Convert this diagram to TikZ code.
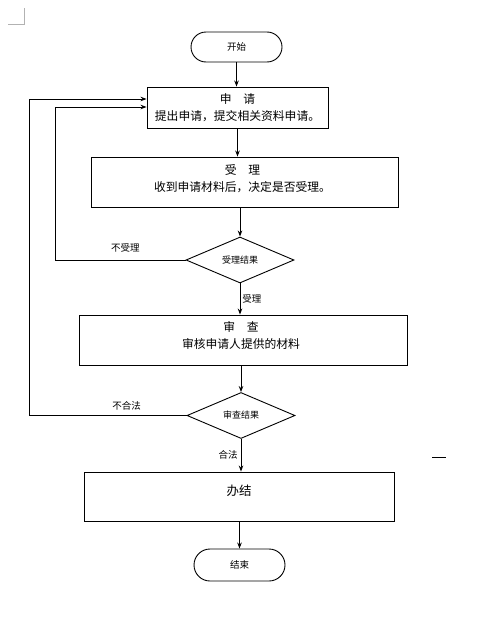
\documentclass[tikz,border=0pt]{standalone}
\usepackage{fontspec}
\setmainfont{Noto Sans CJK SC}
\usetikzlibrary{shapes.geometric, arrows.meta, positioning}

\begin{document}
\begin{tikzpicture}[
    x=1pt, y=-1pt,
    box/.style={rectangle, draw, line width=0.9pt, inner sep=0pt},
    boxtext/.style={align=center, inner sep=0pt, font=\fontsize{11.8}{16.5}\selectfont},
    terminal/.style={rectangle, draw, line width=0.9pt, rounded corners=15pt, minimum width=91pt, minimum height=30pt, font=\fontsize{9.5}{11}\selectfont},
    decision/.style={diamond, draw, line width=0.9pt, inner sep=0pt, minimum width=108pt, minimum height=46pt, font=\fontsize{9}{10}\selectfont},
    edgelabel/.style={inner sep=2pt, font=\fontsize{9.5}{11}\selectfont},
    arrow/.style={-{Stealth[length=6pt, width=4.5pt]}, line width=0.9pt}
]
    \useasboundingbox (0,0) rectangle (481,621);

    % page marks
    \draw[gray!60, line width=0.6pt] (8,24) -- (24,24) -- (24,8);
    \draw[line width=0.9pt] (432,457) -- (446,457);

    \node[terminal] (kaishi) at (236.5,47) {开始};
    \node[box, minimum width=181pt, minimum height=41pt] (shenqing) at (237.5,107.5) {};
    \node[boxtext] (shenqingtext) at (shenqing.center) {申\hspace{1em}请\\提出申请，提交相关资料申请。};
    \node[box, minimum width=307pt, minimum height=50pt] (shouli) at (244.5,182) {};
    \node[boxtext] (shoulitext) at ([xshift=-2pt, yshift=3.5pt]shouli.center) {受\hspace{1em}理\\收到申请材料后，决定是否受理。};
    \node[decision] (shoulijg) at (240,260) {受理结果};
    \node[box, minimum width=328pt, minimum height=50pt] (shencha) at (243,340) {};
    \node[boxtext] (shenchatext) at ([xshift=-2pt, yshift=4.5pt]shencha.center) {审\hspace{1em}查\\审核申请人提供的材料};
    \node[decision] (shenchajg) at (241,415.5) {审查结果};
    \node[box, minimum width=310pt, minimum height=49pt] (banjie) at (239,496.5) {};
    \node[boxtext, font=\fontsize{12.5}{16}\selectfont] (banjietext) at ([yshift=5.5pt]banjie.center) {办结};
    \node[terminal, minimum height=32pt, rounded corners=16pt] (jieshu) at (239.5,565) {结束};

    \coordinate (innerloop) at (55,107);
    \coordinate (outerloop) at (29,99);

    \draw[arrow] (kaishi) -- (kaishi |- shenqing.north);
    \draw[arrow] (shenqing) -- (shenqing |- shouli.north);
    \draw[arrow] (shouli.south -| shoulijg.north) -- (shoulijg.north);
    \draw[arrow] (shoulijg) -- node[edgelabel, right]{受理} (shoulijg |- shencha.north);
    \draw[arrow] (shencha.south -| shenchajg.north) -- (shenchajg.north);
    \draw[arrow] (shenchajg) -- node[edgelabel, left, xshift=-1pt]{合法} (shenchajg |- banjie.north);
    \draw[arrow] (banjie.south -| jieshu.north) -- (jieshu.north);
    \draw[arrow] (shoulijg.west) -| node[edgelabel, pos=0.23, above, yshift=5pt]{不受理} (innerloop) -- (innerloop -| shenqing.west);
    \draw[arrow] (shenchajg.west) -| node[edgelabel, pos=0.19, above, yshift=3pt]{不合法} (outerloop) -- (outerloop -| shenqing.west);
\end{tikzpicture}
\end{document}
